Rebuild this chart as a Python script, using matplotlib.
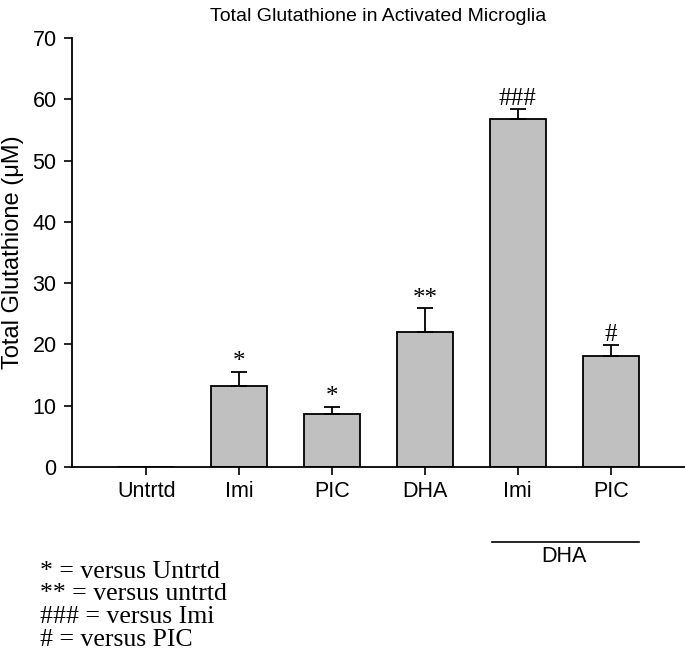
import matplotlib.pyplot as plt

groups = ['Untrtd', 'Imi', 'PIC', 'DHA', 'Imi', 'PIC']
means = [0, 13.2, 8.6, 22.0, 56.8, 18.1]
errors = [0, 2.3, 1.2, 3.9, 1.6, 1.8]
marks = ['', '*', '*', '**', '###', '#']
notes = ['* = versus Untrtd', '** = versus untrtd', '### = versus Imi', '# = versus PIC']

sans = ['Liberation Sans', 'DejaVu Sans']
serif = ['Liberation Serif', 'DejaVu Serif']

fig = plt.figure(figsize=(6.85, 6.51), dpi=100)
ax = fig.add_axes([0.105, 0.2826, 0.895, 0.659])

x = list(range(len(groups)))
ax.bar(x, means, width=0.6, color='#c0c0c0', edgecolor='black', linewidth=1.3, zorder=2)
for i in x:
    if errors[i] > 0:
        ax.errorbar(i, means[i], yerr=[[0], [errors[i]]], fmt='none', ecolor='black',
                    elinewidth=1.3, capsize=6, capthick=1.3, zorder=3)
    if marks[i]:
        ax.text(i, means[i] + errors[i] - 0.2, marks[i], ha='center', va='bottom',
                family=serif, fontsize=18)

ax.set_xlim(-0.8, 5.8)
ax.set_ylim(0, 70)
ax.set_yticks(range(0, 71, 10))
ax.set_xticks(x)
ax.set_xticklabels(groups, family=sans, fontsize=15.5)
for lab in ax.get_yticklabels():
    lab.set_family(sans)
    lab.set_fontsize(15.5)
ax.tick_params(direction='out', length=6, width=1.2)
ax.tick_params(axis='x', pad=4)
ax.tick_params(axis='y', pad=5)
ax.spines['top'].set_visible(False)
ax.spines['right'].set_visible(False)
ax.spines['left'].set_linewidth(1.3)
ax.spines['bottom'].set_linewidth(1.3)
ax.set_ylabel('Total Glutathione (μM)', family=sans, fontsize=17, labelpad=6)
ax.set_title('Total Glutathione in Activated Microglia', family=sans, fontsize=14, pad=12)

# DHA group bracket under the last two bars
ax.plot([3.72, 5.3], [-12.3, -12.3], color='black', linewidth=1.2, clip_on=False)
ax.text(4.5, -12.9, 'DHA', ha='center', va='top', family=sans, fontsize=15.5)

for k, note in enumerate(notes):
    fig.text(0.058, 0.122 - k * 0.035, note, ha='left', va='center', family=serif, fontsize=18.5)

fig.savefig('out.png', dpi=100)
